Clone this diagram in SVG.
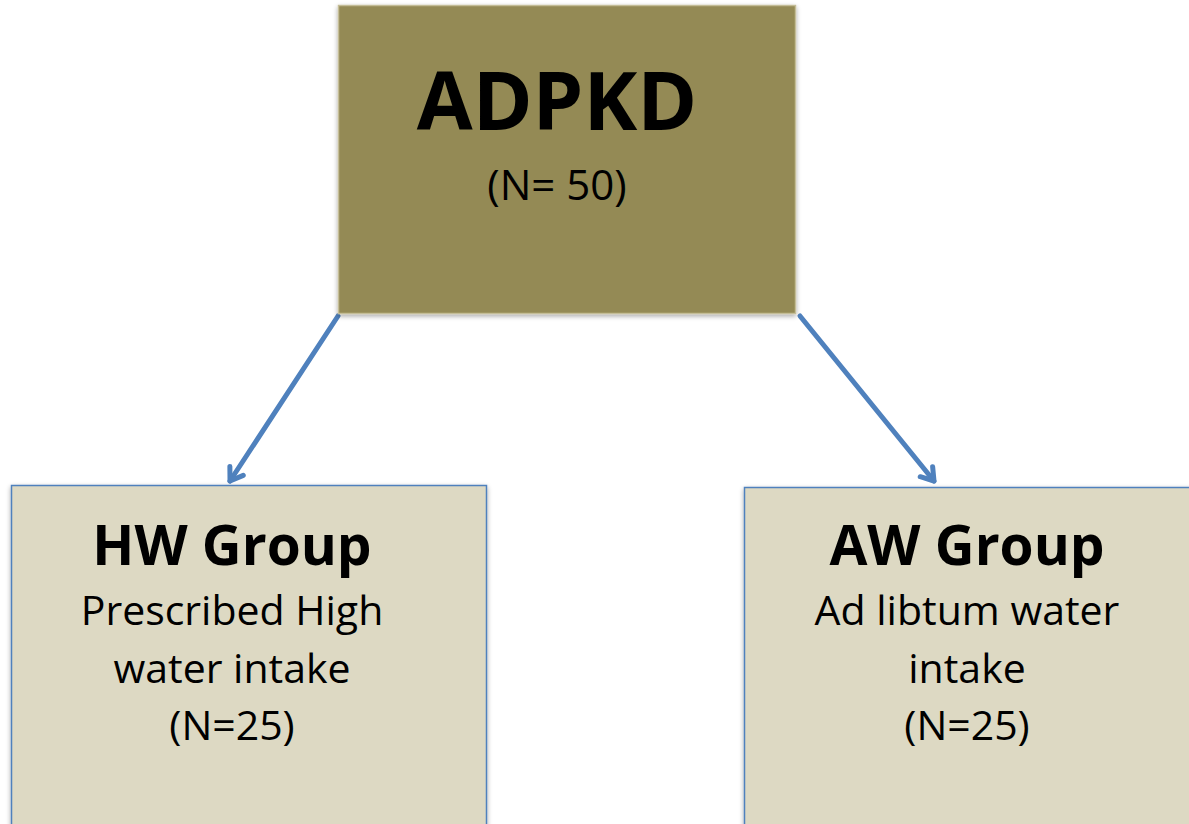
<svg xmlns="http://www.w3.org/2000/svg" width="1189" height="824" viewBox="0 0 1189 824">
<style>
  .t { font-family: "Open Sans", "Liberation Sans", sans-serif; fill: #000; text-anchor: middle; }
  .b { font-weight: bold; }
  .conn { stroke: #4F81BD; stroke-width: 5; fill: none; stroke-linecap: round; }
  .child { fill: #DDD9C3; stroke: #4F81BD; stroke-width: 1.5; }
</style>
<defs>
  <filter id="sh" x="-5%" y="-5%" width="110%" height="110%">
    <feGaussianBlur in="SourceAlpha" stdDeviation="2.5"/>
    <feOffset dx="0" dy="2"/>
    <feComponentTransfer><feFuncA type="linear" slope="0.35"/></feComponentTransfer>
    <feMerge><feMergeNode/><feMergeNode in="SourceGraphic"/></feMerge>
  </filter>
  <marker id="arr" viewBox="0 0 12 12" refX="10" refY="6" markerWidth="12" markerHeight="12" markerUnits="userSpaceOnUse" orient="auto" overflow="visible">
    <path d="M-2,-2 L10,6 L-2,14" fill="none" stroke="#4F81BD" stroke-width="5" stroke-linecap="round" stroke-linejoin="round"/>
  </marker>
</defs>
<rect width="1189" height="824" fill="#fff"/>
<g id="connectors">
  <line class="conn" x1="338" y1="316" x2="230" y2="481" marker-end="url(#arr)"/>
  <line class="conn" x1="800" y1="316" x2="934" y2="481" marker-end="url(#arr)"/>
</g>
<g id="adpkd">
  <rect x="338.5" y="5.5" width="457" height="308" fill="#948A54" stroke="#C4BD97" stroke-width="1.5" filter="url(#sh)"/>
  <text class="t b" x="557" y="130" font-size="81">ADPKD</text>
  <text class="t" x="557" y="200" font-size="42">(N= 50)</text>
</g>
<g id="hw">
  <rect class="child" x="11.5" y="485.5" width="475" height="345" filter="url(#sh)"/>
  <text class="t b" x="232" y="565" font-size="55">HW Group</text>
  <text class="t" x="232" y="625" font-size="41">Prescribed High</text>
  <text class="t" x="232" y="683" font-size="41">water intake</text>
  <text class="t" x="232" y="740" font-size="41">(N=25)</text>
</g>
<g id="aw">
  <rect class="child" x="744.5" y="487.5" width="460" height="345" filter="url(#sh)"/>
  <text class="t b" x="967" y="565" font-size="55">AW Group</text>
  <text class="t" x="967" y="625" font-size="41">Ad libtum water</text>
  <text class="t" x="967" y="683" font-size="41">intake</text>
  <text class="t" x="967" y="740" font-size="41">(N=25)</text>
</g>
</svg>
